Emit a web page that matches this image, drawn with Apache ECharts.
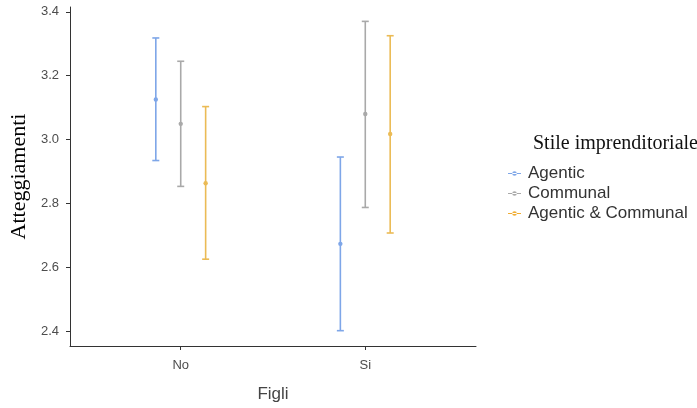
<!DOCTYPE html>
<html>
<head>
<meta charset="utf-8">
<script src="https://cdn.jsdelivr.net/npm/echarts@6/dist/echarts.min.js"></script>
<style>html,body{margin:0;padding:0;background:#fff}#c{width:697px;height:408px}</style>
</head>
<body>
<div id="c"></div>
<script>
var categories = ['No', 'Si'];
var seriesNames = ['Agentic', 'Communal', 'Agentic & Communal'];
var agenticMean = [3.125, 2.673];
var agenticLow = [2.934, 2.401];
var agenticHigh = [3.318, 2.945];
var communalMean = [3.049, 3.080];
var communalLow = [2.853, 2.787];
var communalHigh = [3.245, 3.370];
var bothMean = [2.863, 3.017];
var bothLow = [2.625, 2.707];
var bothHigh = [3.103, 3.325];
var yTicks = [2.4, 2.6, 2.8, 3.0, 3.2, 3.4];

var colors = ['#7ea6e8', '#a9a9a9', '#ebbb55'];
var legendColors = ['#7ea6e8', '#a9a9a9', '#f0ad33'];
var dodge = [-0.135, 0, 0.135];

function build(mean, low, high) {
  return categories.map(function (c, i) { return [i + 1, low[i], mean[i], high[i]]; });
}
var datasets = [
  build(agenticMean, agenticLow, agenticHigh),
  build(communalMean, communalLow, communalHigh),
  build(bothMean, bothLow, bothHigh)
];

function makeRender(k) {
  return function (params, api) {
    var x = api.value(0) + dodge[k];
    var pLow = api.coord([x, api.value(1)]);
    var pMean = api.coord([x, api.value(2)]);
    var pHigh = api.coord([x, api.value(3)]);
    var cap = 3.5;
    var st = { stroke: colors[k], lineWidth: 1.6 };
    return {
      type: 'group',
      children: [
        { type: 'line', shape: { x1: pLow[0], y1: pLow[1], x2: pHigh[0], y2: pHigh[1] }, style: st },
        { type: 'line', shape: { x1: pLow[0] - cap, y1: pLow[1], x2: pLow[0] + cap, y2: pLow[1] }, style: st },
        { type: 'line', shape: { x1: pHigh[0] - cap, y1: pHigh[1], x2: pHigh[0] + cap, y2: pHigh[1] }, style: st },
        { type: 'circle', shape: { cx: pMean[0], cy: pMean[1], r: 2.2 }, style: { fill: colors[k] } }
      ]
    };
  };
}

var series = seriesNames.map(function (n, k) {
  return {
    name: n,
    type: 'custom',
    renderItem: makeRender(k),
    itemStyle: { color: legendColors[k] },
    encode: { x: 0, y: [1, 2, 3] },
    data: datasets[k]
  };
});

var chart = echarts.init(document.getElementById('c'), null, { renderer: 'canvas' });
chart.setOption({
  animation: false,
  backgroundColor: '#fff',
  title: {
    text: 'Stile imprenditoriale',
    left: 528, top: 129,
    textStyle: { fontFamily: 'Liberation Serif, DejaVu Serif, serif', fontSize: 20, fontWeight: 'normal', color: '#111' }
  },
  legend: {
    orient: 'vertical',
    left: 503, top: 160,
    itemWidth: 13, itemHeight: 5, itemGap: 3,
    icon: 'path://M0,1.9 H13 V3.1 H0 Z M6.5,0.2 a2.3,2.3 0 1,0 0.01,0 Z',
    textStyle: { fontFamily: 'Liberation Sans, Arial, sans-serif', fontSize: 17, color: '#333', padding: [0, 0, 0, 2] },
    data: seriesNames
  },
  grid: { left: 70, right: 221, top: 7, bottom: 62, containLabel: false },
  xAxis: {
    type: 'value', min: 0.4, max: 2.6,
    name: 'Figli', nameLocation: 'middle', nameGap: 40,
    nameTextStyle: { fontFamily: 'Liberation Sans, Arial, sans-serif', fontSize: 17, color: '#444' },
    axisLine: { show: true, lineStyle: { color: '#333', width: 1 } },
    axisTick: { show: true, length: 4, customValues: [1, 2], lineStyle: { color: '#333' } },
    axisLabel: { customValues: [1, 2], margin: 13, fontFamily: 'Liberation Sans, Arial, sans-serif', fontSize: 13, color: '#4d4d4d',
      formatter: function (v) { return categories[Math.round(v) - 1]; } },
    splitLine: { show: false }
  },
  yAxis: {
    type: 'value', min: 2.353, max: 3.415,
    name: 'Atteggiamenti', nameLocation: 'middle', nameGap: 40, nameRotate: 90,
    nameTextStyle: { fontFamily: 'Liberation Serif, DejaVu Serif, serif', fontSize: 22, color: '#000' },
    axisLine: { show: true, lineStyle: { color: '#333', width: 1 } },
    axisTick: { show: true, length: 4, customValues: yTicks, lineStyle: { color: '#333' } },
    axisLabel: { customValues: yTicks, margin: 11, fontFamily: 'Liberation Sans, Arial, sans-serif', fontSize: 13, color: '#4d4d4d',
      formatter: function (v) { return v.toFixed(1); } },
    splitLine: { show: false }
  },
  series: series
});
</script>
</body>
</html>
